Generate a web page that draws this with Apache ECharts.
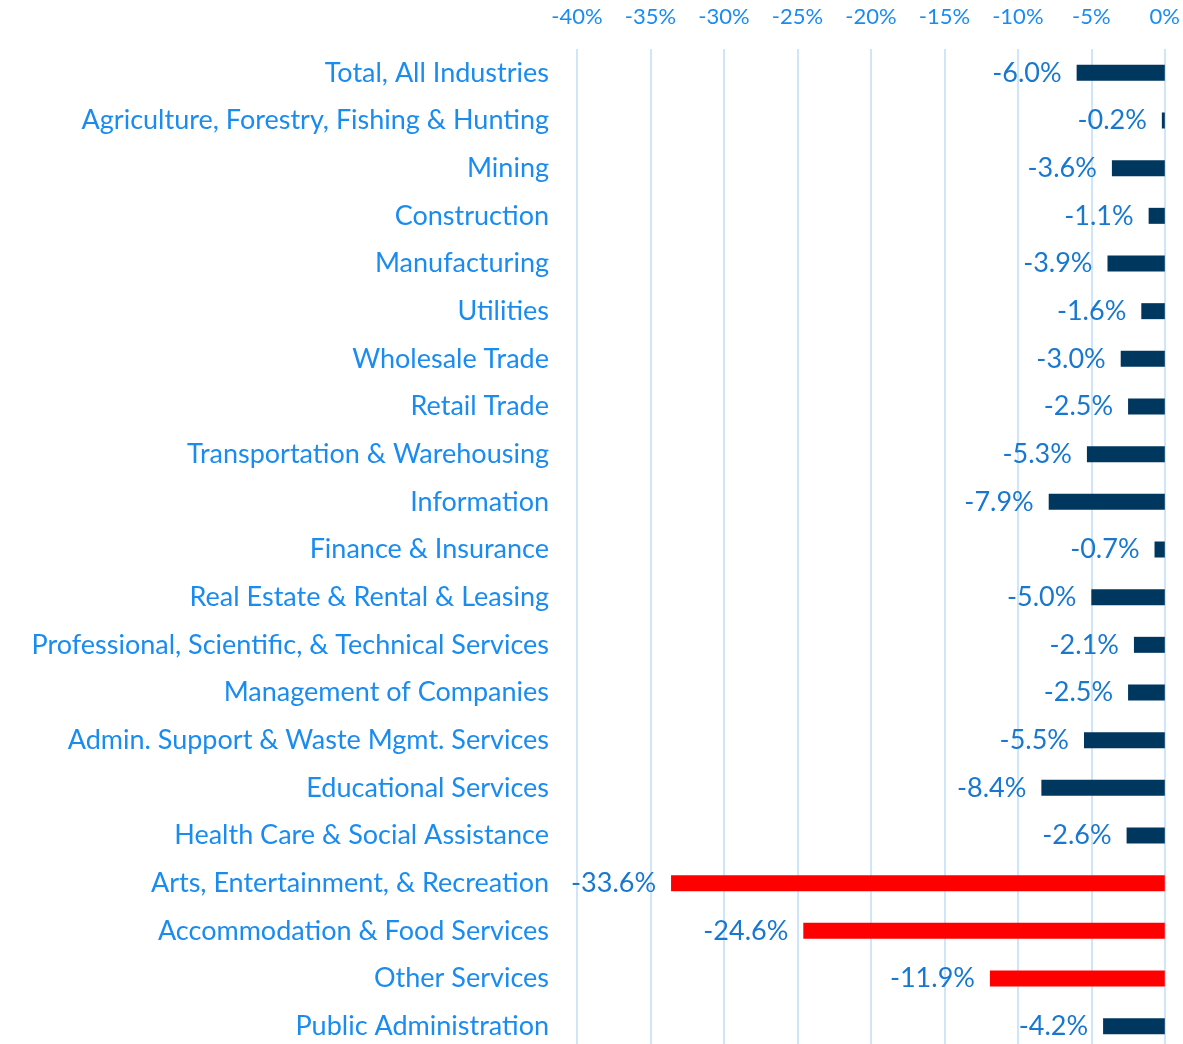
<!DOCTYPE html>
<html>
<head>
<meta charset="utf-8">
<script src="https://cdn.jsdelivr.net/npm/echarts@6/dist/echarts.min.js"></script>
<style>html,body{margin:0;padding:0;background:#fff;overflow:hidden;}#c{width:1183px;height:1052px;}</style>
</head>
<body>
<div id="c"></div>
<script>
const categories = [
  "Total, All Industries",
  "Agriculture, Forestry, Fishing & Hunting",
  "Mining",
  "Construction",
  "Manufacturing",
  "Utilities",
  "Wholesale Trade",
  "Retail Trade",
  "Transportation & Warehousing",
  "Information",
  "Finance & Insurance",
  "Real Estate & Rental & Leasing",
  "Professional, Scientific, & Technical Services",
  "Management of Companies",
  "Admin. Support & Waste Mgmt. Services",
  "Educational Services",
  "Health Care & Social Assistance",
  "Arts, Entertainment, & Recreation",
  "Accommodation & Food Services",
  "Other Services",
  "Public Administration"
];
const values = [-6.0, -0.2, -3.6, -1.1, -3.9, -1.6, -3.0, -2.5, -5.3, -7.9, -0.7, -5.0, -2.1, -2.5, -5.5, -8.4, -2.6, -33.6, -24.6, -11.9, -4.2];
const highlighted = ["Arts, Entertainment, & Recreation", "Accommodation & Food Services", "Other Services"];

const font = "Lato, 'Open Sans', sans-serif";
const chart = echarts.init(document.getElementById('c'), null, {renderer: 'canvas'});
chart.setOption({
  animation: false,
  backgroundColor: '#ffffff',
  grid: {left: 577, right: 16, top: 49, bottom: 2, containLabel: false},
  xAxis: {
    type: 'value', position: 'top', min: -40, max: 0, interval: 5,
    axisLine: {show: false}, axisTick: {show: false},
    splitLine: {lineStyle: {color: '#cfe6fa', width: 2}},
    axisLabel: {formatter: '{value}%', color: '#1a8cf0', fontSize: 22, fontFamily: font, margin: 21}
  },
  yAxis: {
    type: 'category', data: categories, inverse: true,
    axisLine: {show: false}, axisTick: {show: false},
    axisLabel: {color: '#1a8cf0', fontSize: 27, fontFamily: font, margin: 28}
  },
  series: [{
    type: 'bar', barWidth: 16,
    data: values.map((v, i) => ({
      value: v,
      itemStyle: {color: highlighted.includes(categories[i]) ? '#ff0000' : '#00375f'}
    })),
    label: {
      show: true, position: 'left', distance: 15,
      formatter: p => p.value.toFixed(1) + '%',
      color: '#1878d0', fontSize: 27, fontFamily: font
    }
  }]
});
</script>
</body>
</html>
